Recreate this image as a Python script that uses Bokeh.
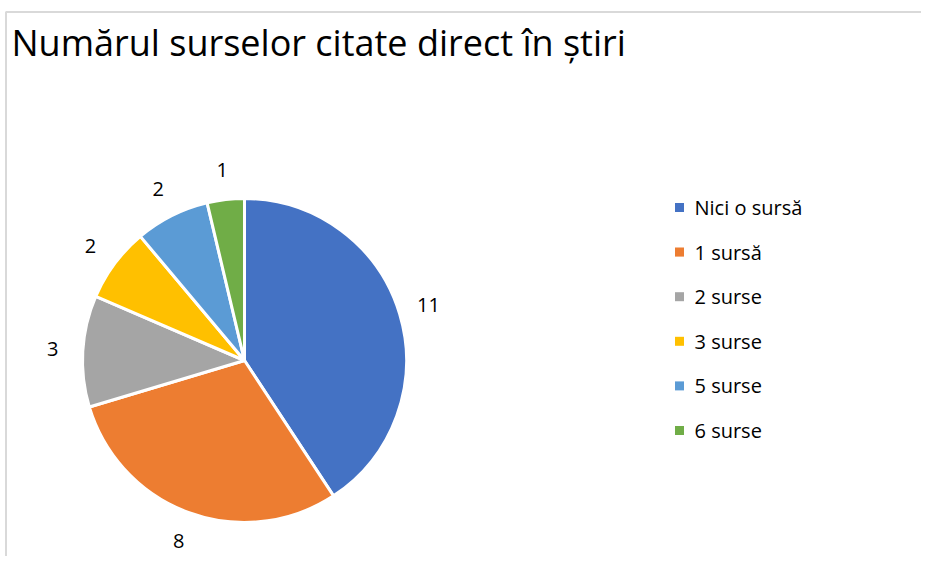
import numpy as np
from bokeh.plotting import figure
from bokeh.models import Range1d, ColumnDataSource
from bokeh.core.properties import value
from bokeh.embed import file_html
from bokeh.resources import INLINE

title = "Numărul surselor citate direct în știri"
categories = ["Nici o sursă", "1 sursă", "2 surse", "3 surse", "5 surse", "6 surse"]
counts = [11, 8, 3, 2, 2, 1]
colors = ["#4472C4", "#ED7D31", "#A5A5A5", "#FFC000", "#5B9BD5", "#70AD47"]

W, H = 921, 556
FONT = "Open Sans"

def sx(x):  # screen x -> data x
    return x

def sy(y):  # screen y -> data y
    return H - y

vals = np.array(counts, dtype=float)
total = vals.sum()
cum_end = np.cumsum(vals) / total
cum_start = cum_end - vals / total
start = np.pi / 2 - cum_end * 2 * np.pi
end = np.pi / 2 - cum_start * 2 * np.pi
mid = (start + end) / 2

cx, cy, r = sx(244), sy(360), 162
lr = 192

src = ColumnDataSource(dict(
    cat=categories, val=counts, color=colors, start=start, end=end,
    lx=cx + lr * np.cos(mid), ly=cy + lr * np.sin(mid),
    lab=[str(v) for v in counts],
))

p = figure(width=W, height=H, output_backend="svg", toolbar_location=None,
           x_range=Range1d(0, W), y_range=Range1d(0, H),
           min_border=0, outline_line_color=None)
p.axis.visible = False
p.grid.visible = False
p.background_fill_color = "white"

# chart border (top and left)
p.line(x=[sx(5), W], y=[sy(11.5), sy(11.5)], line_color="#d9d9d9", line_width=2)
p.line(x=[sx(5.5), sx(5.5)], y=[0, sy(11.5)], line_color="#d9d9d9", line_width=2)

p.wedge(x=cx, y=cy, radius=r, start_angle="start", end_angle="end",
        fill_color="color", line_color="white", line_width=3, source=src)

p.text(x="lx", y="ly", text="lab", source=src, text_align="center",
       text_baseline="middle", text_font=value(FONT), text_font_size="20px",
       text_color="#000000")

p.text(x=[sx(11)], y=[sy(41.5)], text=[title], text_align="left",
       text_baseline="middle", text_font=value(FONT), text_font_size="36px",
       text_color="#000000")

# legend
n = len(categories)
leg_y = [sy(207 + i * 44.6) for i in range(n)]
lsrc = ColumnDataSource(dict(x=[sx(679)] * n, tx=[sx(694)] * n, y=leg_y,
                             cat=categories, color=colors))
p.scatter(x="x", y="y", marker="square", size=9, fill_color="color",
          line_color=None, source=lsrc)
p.text(x="tx", y="y", text="cat", source=lsrc, text_align="left",
       text_baseline="middle", text_font=value(FONT), text_font_size="20px",
       text_color="#000000")

open("out.html", "w").write(file_html(p, INLINE))
